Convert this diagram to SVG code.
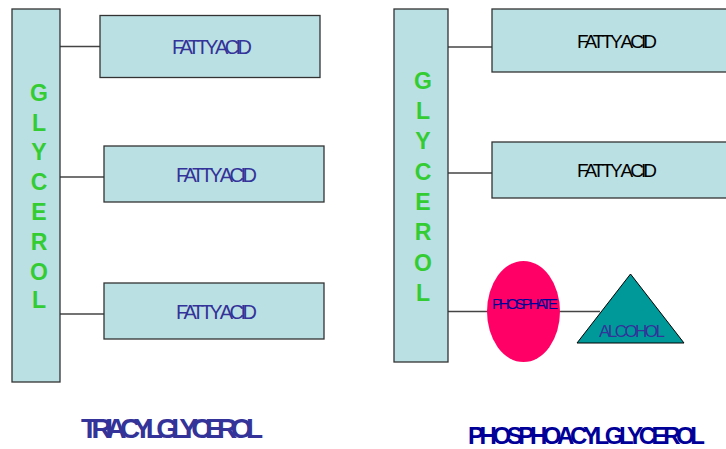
<svg xmlns="http://www.w3.org/2000/svg" width="726" height="449" viewBox="0 0 726 449">
<style>
.box{fill:#bbe0e3;stroke:#333;stroke-width:1.3}
.gl{font-family:"Liberation Sans",Arial,sans-serif;font-weight:bold;font-size:23px;fill:#33cc33;text-anchor:middle}
.fa{font-family:"Liberation Sans",Arial,sans-serif;font-size:20px}
.far{font-family:"Liberation Sans",Arial,sans-serif;font-size:19px}
.conn line{stroke:#444;stroke-width:1.3}
.title{font-family:"Liberation Sans",Arial,sans-serif;font-weight:bold}
</style>
<rect width="726" height="449" fill="#fff"/>
<g id="connectors" class="conn">
<line x1="60" y1="46.5" x2="100" y2="46.5"/>
<line x1="60" y1="177" x2="104" y2="177"/>
<line x1="60" y1="314" x2="104" y2="314"/>
<line x1="448" y1="47" x2="492" y2="47"/>
<line x1="448" y1="173" x2="492" y2="173"/>
<line x1="448" y1="311.5" x2="488" y2="311.5"/>
<line x1="559" y1="311.5" x2="600" y2="311.5"/>
</g>
<g id="glycerol-left">
<rect class="box" x="12" y="9" width="48" height="373"/>
<text class="gl" x="39" y="101">G</text>
<text class="gl" x="39" y="131">L</text>
<text class="gl" x="39" y="160">Y</text>
<text class="gl" x="39" y="190">C</text>
<text class="gl" x="39" y="220">E</text>
<text class="gl" x="39" y="250">R</text>
<text class="gl" x="39" y="280">O</text>
<text class="gl" x="39" y="308">L</text>
</g>
<g id="fa-left-1">
<rect class="box" x="100" y="15.5" width="220" height="62"/>
<text class="fa" x="172" y="54" fill="#333399" textLength="80" lengthAdjust="spacing">FATTY ACID</text>
</g>
<g id="fa-left-2">
<rect class="box" x="104" y="146" width="220" height="56"/>
<text class="fa" x="176" y="182" fill="#333399" textLength="81" lengthAdjust="spacing">FATTY ACID</text>
</g>
<g id="fa-left-3">
<rect class="box" x="104" y="283" width="220" height="56"/>
<text class="fa" x="176" y="319" fill="#333399" textLength="81" lengthAdjust="spacing">FATTY ACID</text>
</g>
<g id="glycerol-right">
<rect class="box" x="394" y="9" width="54" height="353"/>
<text class="gl" x="423" y="89">G</text>
<text class="gl" x="423" y="119">L</text>
<text class="gl" x="423" y="149">Y</text>
<text class="gl" x="423" y="180">C</text>
<text class="gl" x="423" y="210">E</text>
<text class="gl" x="423" y="240">R</text>
<text class="gl" x="423" y="271">O</text>
<text class="gl" x="423" y="301">L</text>
</g>
<g id="fa-right-1">
<rect class="box" x="492" y="9" width="240" height="63"/>
<text class="far" x="577" y="48" fill="#000" textLength="80" lengthAdjust="spacing">FATTY ACID</text>
</g>
<g id="fa-right-2">
<rect class="box" x="492" y="142" width="240" height="56"/>
<text class="far" x="577" y="177" fill="#000" textLength="80" lengthAdjust="spacing">FATTY ACID</text>
</g>
<g id="phosphate">
<ellipse cx="523.5" cy="311.5" rx="36.5" ry="50.5" fill="#ff0066"/>
<text x="492" y="309" font-family="'Liberation Sans',Arial,sans-serif" font-size="15" fill="#000099" textLength="66" lengthAdjust="spacing">PHOSPHATE</text>
</g>
<g id="alcohol">
<polygon points="630.5,274 577,343 684,343" fill="#009999" stroke="#000" stroke-width="1"/>
<text x="599" y="337" font-family="'Liberation Sans',Arial,sans-serif" font-size="17" fill="#333399" textLength="66" lengthAdjust="spacing">ALCOHOL</text>
</g>
<g id="title-left">
<text class="title" x="81" y="438" font-size="28" fill="#333399" textLength="182" lengthAdjust="spacing">TRIACYLGLYCEROL</text>
</g>
<g id="title-right">
<text class="title" x="468" y="444" font-size="24" fill="#000099" textLength="237" lengthAdjust="spacing">PHOSPHOACYLGLYCEROL</text>
</g>
</svg>
